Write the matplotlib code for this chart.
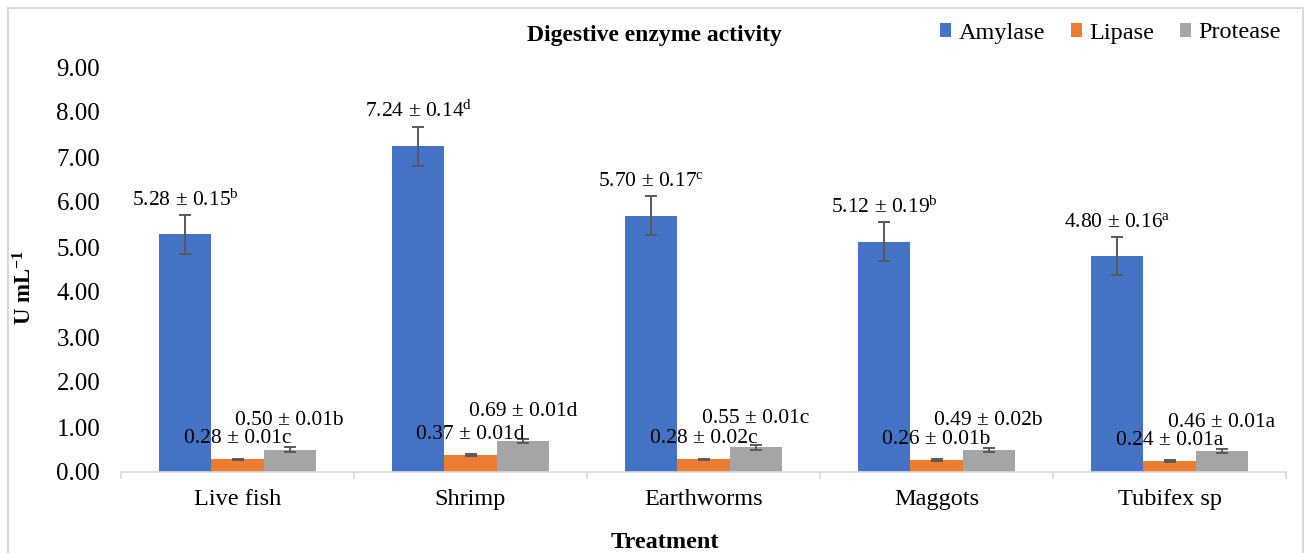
import matplotlib
matplotlib.use("Agg")
import matplotlib.pyplot as plt
import numpy as np
from matplotlib.patches import Rectangle

categories = ["Live fish", "Shrimp", "Earthworms", "Maggots", "Tubifex sp"]
series = ["Amylase", "Lipase", "Protease"]
amylase = [5.28, 7.24, 5.70, 5.12, 4.80]
lipase = [0.28, 0.37, 0.28, 0.26, 0.24]
protease = [0.50, 0.69, 0.55, 0.49, 0.46]
# standard errors written in labels
amylase_se = [0.15, 0.14, 0.17, 0.19, 0.16]
lipase_se = [0.01, 0.01, 0.02, 0.01, 0.01]
protease_se = [0.01, 0.01, 0.01, 0.02, 0.01]
# significance letters
amylase_sig = ["b", "d", "c", "b", "a"]
lipase_sig = ["c", "d", "c", "b", "a"]
protease_sig = ["b", "d", "c", "b", "a"]
# drawn error bar half-lengths
amylase_bar_err = [0.43, 0.43, 0.44, 0.43, 0.42]
lipase_bar_err = [0.02, 0.02, 0.02, 0.02, 0.02]
protease_bar_err = [0.05, 0.05, 0.05, 0.05, 0.045]
yticks = [0, 1, 2, 3, 4, 5, 6, 7, 8, 9]

colors = ["#4472C4", "#ED7D31", "#A5A5A5"]
serif = "Liberation Serif"
plt.rcParams["font.family"] = [serif, "DejaVu Serif"]
plt.rcParams["mathtext.fontset"] = "custom"
plt.rcParams["mathtext.rm"] = serif
plt.rcParams["mathtext.it"] = serif + ":italic"
plt.rcParams["mathtext.bf"] = serif + ":bold"

W, H = 1304, 553
fig = plt.figure(figsize=(W / 100, H / 100), dpi=100)
ax = fig.add_axes([121 / W, 81 / H, (1286 - 121) / W, (472 - 67) / H])

x = np.arange(len(categories))
bw = 0.224
data = [amylase, lipase, protease]
errs = [amylase_bar_err, lipase_bar_err, protease_bar_err]
ses = [amylase_se, lipase_se, protease_se]
sigs = [amylase_sig, lipase_sig, protease_sig]
offs = [-bw, 0, bw]
label_off = [7, 11, 16]

for k in range(3):
    ax.bar(x + offs[k], data[k], bw, color=colors[k], label=series[k], zorder=2)
    ax.errorbar(x + offs[k], data[k], yerr=errs[k], fmt="none", ecolor="#595959",
                elinewidth=1.4, capsize=4.5, capthick=1.4, zorder=3)
    for i in range(len(categories)):
        if k == 0:
            txt = f"{data[k][i]:.2f} ± {ses[k][i]:.2f}$^{{\\mathrm{{{sigs[k][i]}}}}}$"
        else:
            txt = f"{data[k][i]:.2f} ± {ses[k][i]:.2f}{sigs[k][i]}"
        ax.annotate(txt, xy=(x[i] + offs[k], data[k][i] + errs[k][i]),
                    xytext=(0, label_off[k]), textcoords="offset points",
                    ha="center", va="baseline", fontsize=15.5, zorder=4)

ax.set_xlim(-0.5, len(categories) - 0.5)
ax.set_ylim(0, 9)
ax.set_yticks(yticks)
ax.set_yticklabels([f"{v:.2f}" for v in yticks], fontsize=18)
ax.tick_params(axis="y", length=0, pad=15)

ax.set_xticks(np.arange(len(categories) + 1) - 0.5)
ax.set_xticklabels([])
ax.set_xticks(x, minor=True)
ax.set_xticklabels(categories, minor=True, fontsize=17.5)
ax.tick_params(axis="x", which="major", length=5, color="#d9d9d9", width=1.2, direction="out")
ax.tick_params(axis="x", which="minor", length=0, pad=12)

for s in ["top", "right", "left"]:
    ax.spines[s].set_visible(False)
ax.spines["bottom"].set_color("#d9d9d9")
ax.spines["bottom"].set_linewidth(1.2)

fig.text(654 / W, 1 - 36 / H, "Digestive enzyme activity", ha="center", va="center",
         fontsize=17, fontweight="bold")
fig.text(665 / W, 1 - 543 / H, "Treatment", ha="center", va="center",
         fontsize=17.5, fontweight="bold")
fig.text(25 / W, 1 - 287 / H, r"U mL$^{\mathbf{-1}}$", ha="center", va="center",
         rotation=90, fontsize=16.5, fontweight="bold")

ax.legend(loc="center right", bbox_to_anchor=(1281 / W, 1 - 33 / H),
          bbox_transform=fig.transFigure, ncol=3, frameon=False, fontsize=17.5,
          handlelength=0.47, handleheight=0.47, handletextpad=0.3, columnspacing=1.05,
          borderaxespad=0, borderpad=0)

fig.patches.append(Rectangle((8 / W, -0.01), (1303 - 8) / W, 1 - 8 / H + 0.01,
                             transform=fig.transFigure, fill=False,
                             edgecolor="#d9d9d9", linewidth=1.5))

fig.savefig("out.png", dpi=100)
